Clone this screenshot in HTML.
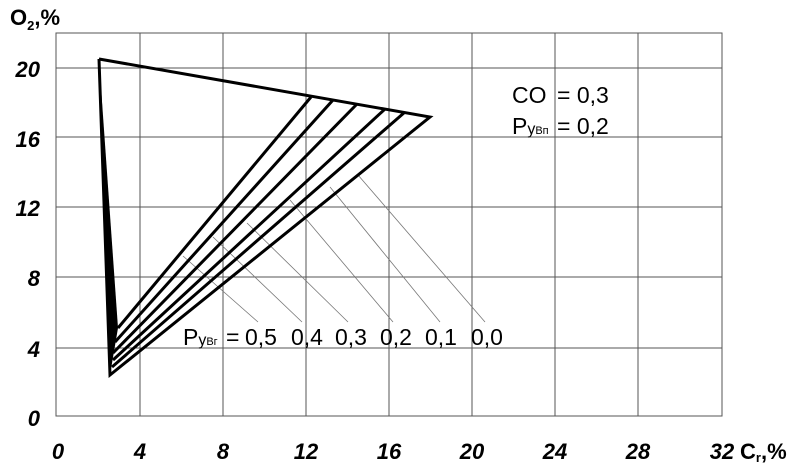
<!DOCTYPE html><html><head><style>body{margin:0;background:#fff}svg{display:block}</style></head><body>
<svg width="796" height="468" xmlns="http://www.w3.org/2000/svg" font-family="Liberation Sans, sans-serif">
<g stroke="#555" stroke-width="1" fill="none">
<rect x="56" y="33" width="666" height="383"/>
<line x1="140" y1="33" x2="140" y2="416"/><line x1="223" y1="33" x2="223" y2="416"/><line x1="306" y1="33" x2="306" y2="416"/><line x1="389" y1="33" x2="389" y2="416"/><line x1="472" y1="33" x2="472" y2="416"/><line x1="555" y1="33" x2="555" y2="416"/><line x1="638" y1="33" x2="638" y2="416"/>
<line x1="56" y1="68" x2="722" y2="68"/><line x1="56" y1="137" x2="722" y2="137"/><line x1="56" y1="207" x2="722" y2="207"/><line x1="56" y1="277" x2="722" y2="277"/><line x1="56" y1="348" x2="722" y2="348"/>
</g>
<g stroke="#777" stroke-width="0.8">
<line x1="183" y1="256" x2="258" y2="322"/><line x1="213" y1="237" x2="302" y2="322"/><line x1="247" y1="223" x2="348" y2="322"/><line x1="290" y1="200" x2="393" y2="322"/><line x1="330" y1="187" x2="440" y2="322"/><line x1="358" y1="175" x2="485" y2="322"/>
</g>
<polygon points="99,59 118,328 110,375" fill="#000"/>
<g stroke="#000" stroke-width="3" fill="none" stroke-linejoin="miter">
<polyline points="99,59 430,117 110,375 99,59"/>
<line x1="118" y1="328" x2="311" y2="97"/><line x1="115" y1="342" x2="333" y2="100"/><line x1="113" y1="353" x2="357" y2="104"/><line x1="113" y1="360" x2="385" y2="109"/><line x1="112" y1="367" x2="405" y2="112"/>
</g>
<g font-weight="bold" font-style="italic" font-size="22" fill="#000" text-anchor="end">
<text x="40" y="77">20</text><text x="40" y="147">16</text><text x="40" y="216">12</text><text x="40" y="286">8</text><text x="40" y="357">4</text><text x="40" y="426">0</text>
</g>
<g font-weight="bold" font-style="italic" font-size="22" fill="#000" text-anchor="middle">
<text x="58" y="459">0</text><text x="140" y="459">4</text><text x="223" y="459">8</text><text x="306" y="459">12</text><text x="389" y="459">16</text><text x="472" y="459">20</text><text x="555" y="459">24</text><text x="638" y="459">28</text><text x="722" y="459">32</text>
</g>
<text x="740" y="459" font-weight="bold" font-size="22">C<tspan font-size="13" dy="3">r</tspan><tspan dy="-3">,%</tspan></text>
<text x="10" y="25" font-weight="bold" font-size="22">O<tspan font-size="13" dy="5">2</tspan><tspan dy="-5">,%</tspan></text>
<g font-size="23" fill="#000">
<text x="183" y="345">P<tspan font-size="16">у</tspan><tspan font-size="11">Вг</tspan></text>
<text x="226" y="345">=</text>
<text x="245" y="345">0,5</text><text x="291" y="345">0,4</text><text x="335" y="345">0,3</text><text x="380" y="345">0,2</text><text x="425" y="345">0,1</text><text x="471" y="345">0,0</text>
<text x="512" y="103">CO</text><text x="557" y="103">= 0,3</text>
<text x="512" y="134">P<tspan font-size="16">у</tspan><tspan font-size="11">Вп</tspan></text><text x="557" y="134">= 0,2</text>
</g>
</svg></body></html>
